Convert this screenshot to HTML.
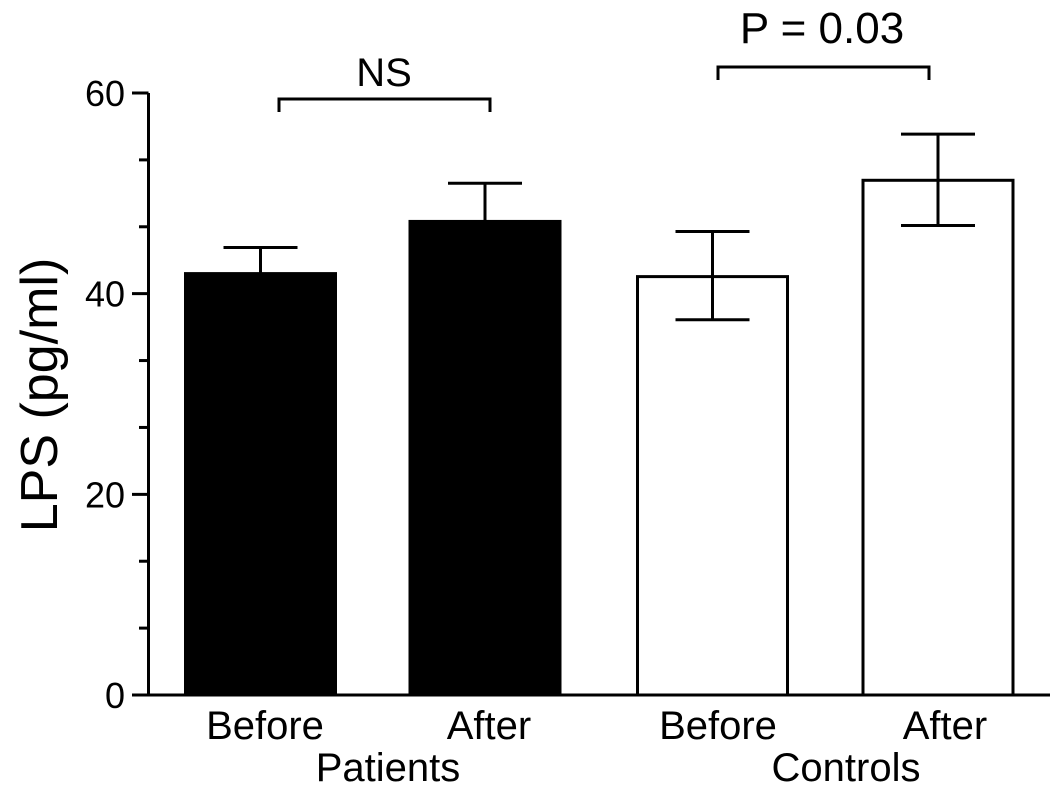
<!DOCTYPE html>
<html><head><meta charset="utf-8"><style>
html,body{margin:0;padding:0;background:#fff}
svg{display:block;font-family:"Liberation Sans",Arial,sans-serif}
</style></head><body>
<svg id="chart" width="1063" height="795" viewBox="0 0 1063 795" xmlns="http://www.w3.org/2000/svg"></svg>
<script>
const categories = ["Before","After","Before","After"];
const groups = ["Patients","Patients","Controls","Controls"];
const means = [42.0, 47.2, 41.7, 51.3];
const errUpper = [44.6, 51.0, 46.2, 55.9];
const errLower = [42.0, 47.2, 37.4, 46.8];
const fills = ["#000","#000","#fff","#fff"];
const yTicks = [0,20,40,60];
const yTickLabels = ["0","20","40","60"];

const NS = "http://www.w3.org/2000/svg";
const svg = document.getElementById('chart');
const y0 = 695, yTop = 93, yMax = 60;
const y = v => y0 - (v / yMax) * (y0 - yTop);
const xCenters = [260.5, 485, 712.5, 938];
const bw = 150;
function el(tag, attrs, parent){ const e=document.createElementNS(NS,tag); for(const k in attrs) e.setAttribute(k,attrs[k]); (parent||svg).appendChild(e); return e; }

means.forEach((m,i)=>{
  const r = el('rect',{x:xCenters[i]-bw/2, y:y(m), width:bw, height:y0-y(m), fill:fills[i], stroke:'#000','stroke-width':3});
  
  
  const g = el('g',{stroke:'#000','stroke-width':3,fill:'none'});
  
  
  el('line',{x1:xCenters[i],x2:xCenters[i],y1:y(errUpper[i]),y2:y(errLower[i])},g);
  el('line',{x1:xCenters[i]-37,x2:xCenters[i]+37,y1:y(errUpper[i]),y2:y(errUpper[i])},g);
  if (errLower[i] < means[i]) el('line',{x1:xCenters[i]-37,x2:xCenters[i]+37,y1:y(errLower[i]),y2:y(errLower[i])},g);
});

const ax = el('g',{stroke:'#000','stroke-width':3,fill:'none'});


el('line',{x1:148.5,x2:148.5,y1:yTop,y2:y0+1.5},ax);
el('line',{x1:133,x2:1050,y1:y0,y2:y0},ax);
for(let v=0; v<=60.01; v+=20/3){
  const major = Math.abs(v/20-Math.round(v/20))<0.01;
  el('line',{x1:major?132:139,x2:148.5,y1:y(v),y2:y(v)},ax);
}
yTicks.forEach((v,i)=>{
  const t = el('text',{x:125,y:y(v)+13,'font-size':36,'text-anchor':'end'});
  t.textContent = yTickLabels[i];
  
  
});
const yt = el('text',{x:0,y:0,'font-size':52,'text-anchor':'middle',transform:'translate(57,395) rotate(-90)'});
yt.textContent='LPS (pg/ml)';



const catX = [265, 489, 718, 945];
categories.forEach((c,i)=>{
  const t = el('text',{x:catX[i],y:739,'font-size':40,'text-anchor':'middle'});
  t.textContent=c;
  
  
});
const gl = [["Patients",388,781],["Controls",846,781]];
gl.forEach(g=>{
  const t = el('text',{x:g[1],y:g[2],'font-size':40,'text-anchor':'middle'});
  t.textContent=g[0];
  
  
});

const br = [[279,490,99,"NS",384,86,40],[718,929,67,"P = 0.03",822,43,44]];
br.forEach((b,i)=>{
  const p = el('path',{d:`M${b[0]} ${b[2]+13} V${b[2]} H${b[1]} V${b[2]+13}`,stroke:'#000','stroke-width':3,fill:'none'});
  
  
  const t = el('text',{x:b[4],y:b[5],'font-size':b[6],'text-anchor':'middle'});
  t.textContent=b[3];
  
  
});
</script>
</body></html>
